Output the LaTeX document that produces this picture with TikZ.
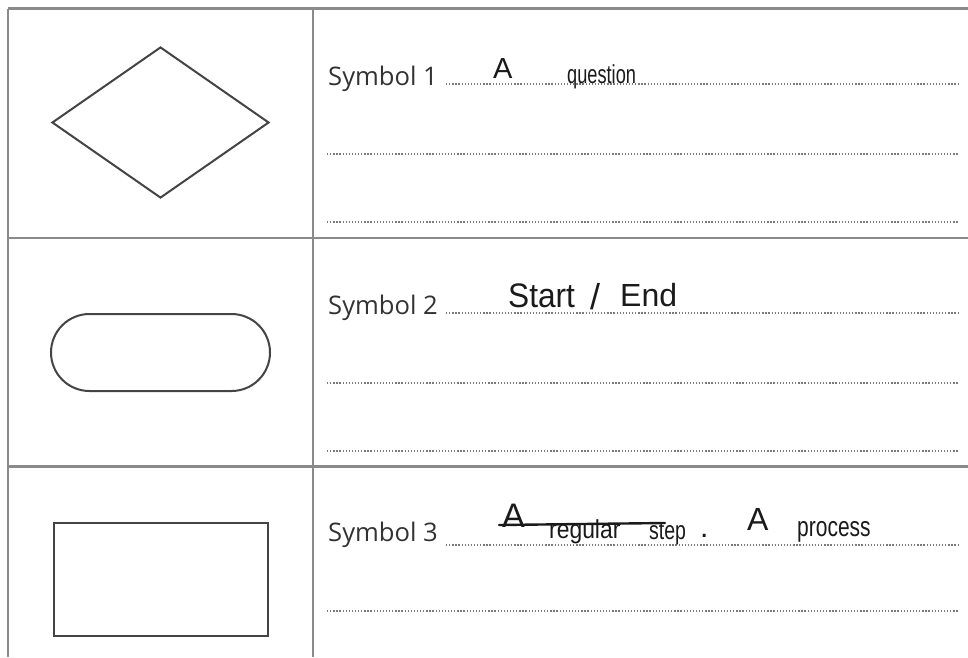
\documentclass[tikz,border=0pt]{standalone}
\usepackage{fontspec}
\usepackage{graphicx}
\setmainfont{Open Sans}
\newfontfamily\handfont{Liberation Sans}
\usetikzlibrary{shapes.geometric}
\definecolor{rulecol}{HTML}{8A8A8A}
\definecolor{dotcol}{HTML}{7A7A7A}
\definecolor{shapecol}{HTML}{444444}
\definecolor{labelcol}{HTML}{333333}
\definecolor{inkcol}{HTML}{1A1A1A}
\begin{document}
\begin{tikzpicture}[x=1pt,y=-1pt,
  tablerule/.style={draw=rulecol,line width=2.3pt},
  dotrule/.style={draw=dotcol,line width=1.3pt,dash pattern=on 1.3pt off 1.8pt},
  shapebox/.style={draw=shapecol,line width=2pt,inner sep=0pt,fill=none},
  symlabel/.style={anchor=base west,inner sep=0pt,text=labelcol,font=\fontsize{25.6}{30}\selectfont},
  handw/.style={anchor=base west,inner sep=0pt,text=inkcol},
  strikeline/.style={draw=inkcol,line width=2.4pt,line cap=round}]
\useasboundingbox (0,0) rectangle (968,657);
\fill[white] (0,0) rectangle (968,657);

% table grid
\coordinate (tl) at (8,8.5);
\coordinate (tr) at (968,8.5);
\coordinate (bl) at (8,657);
\coordinate (ct) at (313,8.5);
\coordinate (cb) at (313,657);
\coordinate (r1l) at (8,238);
\coordinate (r1r) at (968,238);
\coordinate (r2l) at (8,466.5);
\coordinate (r2r) at (968,466.5);
\draw[tablerule] (tl) -- (tr);
\draw[tablerule] (tl) -- (bl);
\draw[tablerule] (ct) -- (cb);
\draw[tablerule] (r1l) -- (r1r);
\draw[tablerule] (r2l) -- (r2r);

% symbols
\node[shapebox,diamond,minimum width=217pt,minimum height=151pt,aspect=1.437] (dia) at (160.5,122.5) {};
\node[shapebox,rectangle,rounded corners=38.5pt,minimum width=219pt,minimum height=77pt] (term) at (160.5,352.5) {};
\node[shapebox,rectangle,minimum width=214pt,minimum height=113pt] (proc) at (160.5,579.5) {};

% labels
\node[symlabel] (s1) at (328,85) {Symbol 1};
\node[symlabel] (s2) at (328,314) {Symbol 2};
\node[symlabel] (s3) at (328,541) {Symbol 3};

% dotted answer lines
\coordinate (e1) at (958,84);
\coordinate (e2) at (958,313);
\coordinate (e3) at (958,545);
\draw[dotrule] ([xshift=8pt]s1.base east |- e1) -- (e1);
\draw[dotrule] ([xshift=8pt]s2.base east |- e2) -- (e2);
\draw[dotrule] ([xshift=8pt]s3.base east |- e3) -- (e3);
\coordinate (l1a) at (327,154);  \coordinate (l1b) at (958,154);
\coordinate (l2a) at (327,222);  \coordinate (l2b) at (958,222);
\coordinate (l3a) at (327,383);  \coordinate (l3b) at (958,383);
\coordinate (l4a) at (327,451);  \coordinate (l4b) at (958,451);
\coordinate (l5a) at (327,611);  \coordinate (l5b) at (958,611);
\draw[dotrule] (l1a) -- (l1b);
\draw[dotrule] (l2a) -- (l2b);
\draw[dotrule] (l3a) -- (l3b);
\draw[dotrule] (l4a) -- (l4b);
\draw[dotrule] (l5a) -- (l5b);

% handwritten answers
\node[handw,font=\handfont\fontsize{29}{29}\selectfont] (h1a) at (493,78) {A};
\node[handw,font=\handfont\fontsize{26}{26}\selectfont] (h1b) at (567,83) {\scalebox{0.7}[1]{question}};

\node[handw,font=\handfont\fontsize{34}{34}\selectfont] (h2a) at (508,307) {\scalebox{0.93}[1]{Start}};
\node[handw,font=\handfont\fontsize{36}{36}\selectfont] (h2b) at (590,309) {/};
\node[handw,font=\handfont\fontsize{32}{32}\selectfont] (h2c) at (620,306) {End};

\node[handw,font=\handfont\fontsize{34}{34}\selectfont] (h3a) at (502,527) {A};
\node[handw,font=\handfont\fontsize{26}{26}\selectfont] (h3b) at (549,538) {\scalebox{0.88}[1]{regular}};
\node[handw,font=\handfont\fontsize{26}{26}\selectfont] (h3c) at (649,539) {\scalebox{0.75}[1]{step}};
\coordinate (k1) at (499,525);
\coordinate (k2) at (665,523);
\draw[strikeline] (k1) -- (k2);
\node[handw,font=\handfont\fontsize{30}{30}\selectfont] (h3d) at (700,537) {.};
\node[handw,font=\handfont\fontsize{32}{32}\selectfont] (h3e) at (747,530) {A};
\node[handw,font=\handfont\fontsize{28}{28}\selectfont] (h3f) at (797,536) {\scalebox{0.75}[1]{process}};
\end{tikzpicture}
\end{document}
